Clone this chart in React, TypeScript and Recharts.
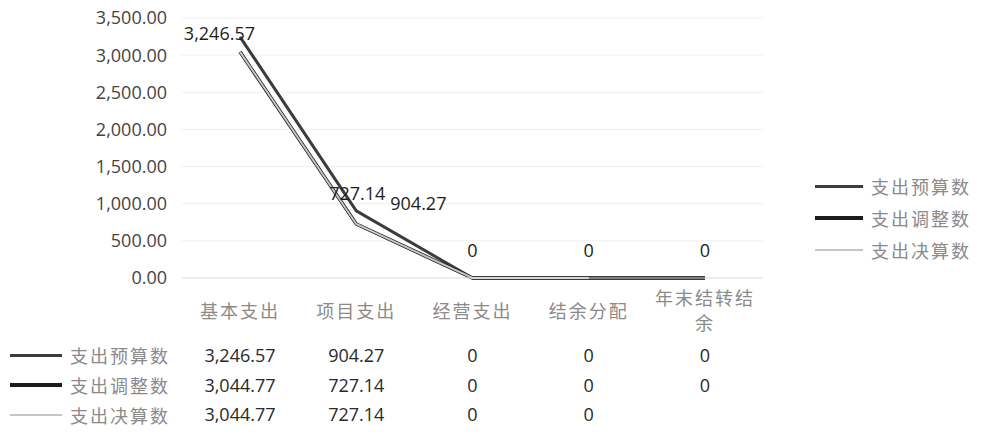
import { LineChart, Line, XAxis, YAxis, CartesianGrid, LabelList } from 'recharts';

const categories = ['基本支出', '项目支出', '经营支出', '结余分配', '年末结转结余'];
const seriesNames = ['支出预算数', '支出调整数', '支出决算数'];
const budget = [3246.57, 904.27, 0, 0, 0];
const adjusted = [3044.77, 727.14, 0, 0, 0];
const finalSpend: (number | null)[] = [3044.77, 727.14, 0, 0, null];
const yTicks = [0, 500, 1000, 1500, 2000, 2500, 3000, 3500];

const seriesValues = [budget, adjusted, finalSpend];
const seriesStyle = [
  { stroke: '#3c3c3c', width: 3 },
  { stroke: '#1c1c1c', width: 3.5 },
  { stroke: '#c6c6c6', width: 2 },
];

const data = categories.map((name, i) => ({
  name,
  budget: budget[i],
  adjusted: adjusted[i],
  finalSpend: finalSpend[i],
}));

const NUM_FONT = '"Open Sans", "Liberation Sans", sans-serif';
const CJK_FONT = '"Noto Sans CJK SC", sans-serif';

const fmt = (v: number | null) => {
  if (v === null || v === undefined) return '';
  if (v === 0) return '0';
  return v.toLocaleString('en-US', { minimumFractionDigits: 2, maximumFractionDigits: 2 });
};

// category label plus the data table column under it
function TableTick(props: any) {
  const { x, payload } = props;
  const axisY = 278;
  const i = payload.index;
  const name: string = categories[i];
  const lines = name.length > 5 ? [name.slice(0, 5), name.slice(5)] : [name];
  const rowY = [77, 107, 136];
  return (
    <g>
      {lines.length === 1 ? (
        <text x={x} y={axisY + 32} textAnchor="middle" dominantBaseline="central"
          fill="#8a8a8a" fontSize={18} fontFamily={CJK_FONT} letterSpacing={2}>
          {lines[0]}
        </text>
      ) : (
        lines.map((l, k) => (
          <text key={k} x={x} y={axisY + 19 + k * 25} textAnchor="middle" dominantBaseline="central"
            fill="#8a8a8a" fontSize={18} fontFamily={CJK_FONT} letterSpacing={2}>
            {l}
          </text>
        ))
      )}
      {seriesValues.map((vals, r) => (
        <text key={r} x={x} y={axisY + rowY[r]} textAnchor="middle" dominantBaseline="central"
          fill="#2a2a2a" fontSize={18} fontFamily={NUM_FONT}>
          {fmt(vals[i])}
        </text>
      ))}
    </g>
  );
}

function BudgetLabel(props: any) {
  const { x, y, value, index } = props;
  if (value === null || value === undefined) return null;
  let tx = x, ty = y - 28, anchor: 'start' | 'middle' | 'end' = 'middle';
  if (index === 0) { tx = x + 15; ty = y - 4; anchor = 'end'; }
  if (index === 1) { tx = x + 34; ty = y - 8; anchor = 'start'; }
  return (
    <text x={tx} y={ty} textAnchor={anchor} dominantBaseline="central"
      fill="#1e1e1e" fontSize={18} fontFamily={NUM_FONT}>
      {fmt(value)}
    </text>
  );
}

function AdjustedLabel(props: any) {
  const { x, y, value, index } = props;
  if (index !== 1) return null;
  return (
    <text x={x + 1} y={y - 31} textAnchor="middle" dominantBaseline="central"
      fill="#1e1e1e" fontSize={18} fontFamily={NUM_FONT}>
      {fmt(value)}
    </text>
  );
}

function LegendRow({ i, left, top, lineWidth }: { i: number; left: number; top: number; lineWidth: number }) {
  return (
    <div style={{ position: 'absolute', left, top: top - 14, height: 28, display: 'flex', alignItems: 'center' }}>
      <div style={{ width: lineWidth, height: seriesStyle[i].width, background: seriesStyle[i].stroke }} />
      <span style={{ marginLeft: 8, fontFamily: CJK_FONT, fontSize: 18, color: '#8a8a8a', letterSpacing: 2, whiteSpace: 'nowrap' }}>
        {seriesNames[i]}
      </span>
    </div>
  );
}

export default function App() {
  return (
    <div style={{ position: 'absolute', left: 0, top: 0, width: 983, height: 434, background: '#fff', overflow: 'hidden' }}>
      <LineChart width={983} height={434} data={data} margin={{ top: 18, right: 220, bottom: 0, left: 0 }}>
        <CartesianGrid vertical={false} stroke="#efefef" />
        <YAxis
          width={182}
          domain={[0, 3500]}
          ticks={yTicks}
          axisLine={false}
          tickLine={false}
          tickMargin={9}
          tickFormatter={(v: number) => v.toLocaleString('en-US', { minimumFractionDigits: 2, maximumFractionDigits: 2 })}
          tick={{ fill: '#444', fontSize: 18, fontFamily: NUM_FONT }}
        />
        <XAxis
          dataKey="name"
          height={156}
          interval={0}
          padding={{ left: 58, right: 58 }}
          axisLine={{ stroke: '#e4e4e4' }}
          tickLine={false}
          tick={<TableTick />}
        />
        <Line dataKey="budget" name={seriesNames[0]} stroke={seriesStyle[0].stroke} strokeWidth={seriesStyle[0].width}
          dot={false} isAnimationActive={false}>
          <LabelList dataKey="budget" content={<BudgetLabel />} />
        </Line>
        <Line dataKey="adjusted" name={seriesNames[1]} stroke={seriesStyle[1].stroke} strokeWidth={seriesStyle[1].width}
          dot={false} isAnimationActive={false}>
          <LabelList dataKey="adjusted" content={<AdjustedLabel />} />
        </Line>
        <Line dataKey="finalSpend" name={seriesNames[2]} stroke={seriesStyle[2].stroke} strokeWidth={seriesStyle[2].width}
          dot={false} isAnimationActive={false} />
      </LineChart>
      {seriesNames.map((_, i) => (
        <LegendRow key={'r' + i} i={i} left={815} top={186 + i * 32} lineWidth={48} />
      ))}
      {seriesNames.map((_, i) => (
        <LegendRow key={'t' + i} i={i} left={10} top={355 + i * 30} lineWidth={52} />
      ))}
    </div>
  );
}
